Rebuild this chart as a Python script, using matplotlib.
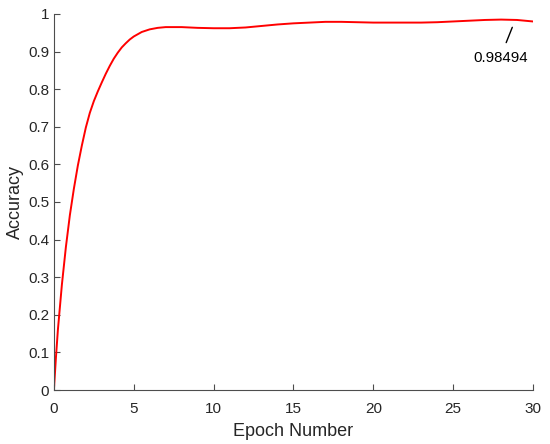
import matplotlib.pyplot as plt

plt.rcParams['font.family'] = ['Liberation Sans', 'DejaVu Sans']

epochs = [0, 0.125, 0.25, 0.5, 0.75, 1, 1.25, 1.5, 1.75, 2, 2.25, 2.5, 2.75, 3, 3.25,
          3.5, 3.75, 4, 4.25, 4.5, 4.75, 5, 5.5, 6, 6.5, 7, 8, 9, 10, 11, 12, 13, 14,
          15, 16, 17, 18, 19, 20, 21, 22, 23, 24, 25, 26, 27, 28, 29, 30]
accuracy = [0, 0.085, 0.16, 0.28, 0.38, 0.465, 0.535, 0.597, 0.65, 0.698, 0.737, 0.768,
            0.794, 0.818, 0.841, 0.862, 0.881, 0.897, 0.911, 0.922, 0.932, 0.940, 0.952,
            0.959, 0.963, 0.965, 0.965, 0.963, 0.962, 0.962, 0.964, 0.968, 0.972, 0.975,
            0.977, 0.979, 0.979, 0.978, 0.977, 0.977, 0.977, 0.977, 0.978, 0.980, 0.982,
            0.984, 0.985, 0.984, 0.980]
peak_epoch = 28.9
peak_label = '0.98494'

fig = plt.figure(figsize=(5.5, 4.44), dpi=100)
ax = fig.add_axes([0.098, 0.1216, 0.871, 0.847])
ax.plot(epochs, accuracy, color='red', linewidth=1.4)

ax.annotate(peak_label, xy=(peak_epoch, 0.985), xytext=(27.95, 0.884),
            ha='center', va='center', fontsize=10.8, color='black',
            arrowprops=dict(arrowstyle='-', color='black', lw=1.0, shrinkA=4, shrinkB=6))

gray = '#4d4d4d'
ax.set_xlim(0, 30)
ax.set_ylim(0, 1)
ax.set_xticks(range(0, 31, 5))
ax.set_yticks([i / 10 for i in range(11)])
ax.set_yticklabels(['0'] + [f'{i / 10:g}' for i in range(1, 10)] + ['1'])
ax.spines['top'].set_visible(False)
ax.spines['right'].set_visible(False)
for s in ['left', 'bottom']:
    ax.spines[s].set_color(gray)
    ax.spines[s].set_linewidth(0.8)
ax.tick_params(direction='in', length=4, colors=gray, labelsize=11, labelcolor='#262626')
ax.tick_params(axis='x', pad=8.5)
ax.set_xlabel('Epoch Number', fontsize=13, color='#262626', labelpad=5)
ax.set_ylabel('Accuracy', fontsize=13, color='#262626', labelpad=3)

fig.savefig('out.png', dpi=100)
